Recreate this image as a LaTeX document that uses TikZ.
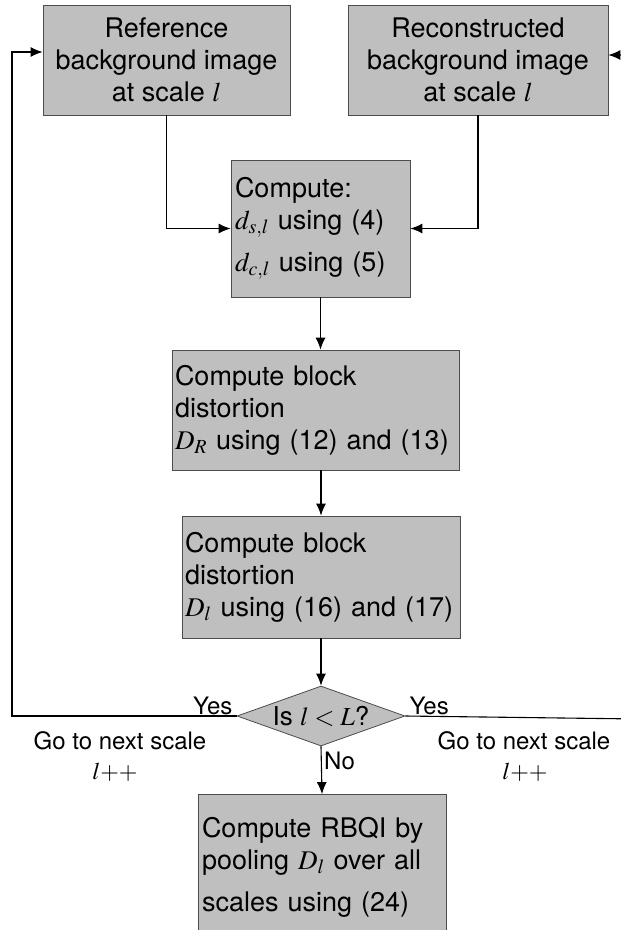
\documentclass[tikz,border=0pt]{standalone}
\usepackage{mathptmx}
\usepackage{fontspec}
\setmainfont{TeX Gyre Heros}
\usetikzlibrary{arrows.meta,positioning,shapes.geometric,calc}

\begin{document}
\begin{tikzpicture}[
  x=1pt, y=-1pt, font=\fontsize{27}{32}\selectfont,
  blk/.style={draw=black!70, fill=black!25, line width=0.8pt, inner sep=0pt},
  lbl/.style={font=\fontsize{24}{28}\selectfont, inner sep=1pt},
  ar/.style={-{Latex[length=12pt,width=10pt]}, line width=1.1pt},
  dec/.style={blk, diamond, aspect=2.8, minimum width=168pt, minimum height=60pt}
]
\useasboundingbox (0,0) rectangle (621,930);
%--- input images ------------------------------------------------------------
\node[blk, minimum width=247pt, minimum height=110pt, align=center] (ref) at (166.5,60)
  {Reference\\ background image\\ at scale $l$};
\node[blk, minimum width=260pt, minimum height=110pt, align=center] (rec) at (478,60)
  {Reconstructed\\ background image\\ at scale $l$};

%--- per-scale computations --------------------------------------------------
\node[blk, minimum width=179pt, minimum height=137pt, text width=171pt, align=left]
  (cmp) at (320.5,228.5)
  {Compute:\\ $d_{s,l}$ using (4)\\[10pt] $d_{c,l}$ using (5)};
\node[blk, minimum width=287pt, minimum height=120pt, text width=281pt, align=left]
  (dr) at (315.5,410)
  {Compute block\\ distortion\\ $D_R$ using (12) and (13)};
\node[blk, minimum width=278pt, minimum height=122pt, text width=272pt, align=left]
  (dl) at (321,577)
  {Compute block\\ distortion\\ $D_l$ using (16) and (17)};
\node[dec, font=\fontsize{26}{30}\selectfont] (chk) at (321,716) {Is $l<L$?};
\node[blk, minimum width=248pt, minimum height=145pt, text width=240pt, align=left]
  (pool) at (322,867)
  {Compute RBQI by\\ pooling $D_l$ over all\\[10pt] scales using (24)};

%--- connectors --------------------------------------------------------------
\draw[ar] (ref.south) |- (cmp.west);
\draw[ar] (rec.south) |- (cmp.east);
\draw[ar] (cmp.south) -- (cmp.south|-dr.north);
\draw[ar] (dl.north|-dr.south) -- (dl.north);
\draw[ar] (dl.south) -- (chk.north);
\draw[ar] (chk.south) -- (pool.north);

%--- loop back to next scale -------------------------------------------------
\coordinate (lc) at (12,716);
\coordinate (rc) at (640,719);
\draw[ar] (chk.west) -- (lc) |- ([yshift=8pt]ref.west);
\draw[ar] (chk.east) -- (rc) |- ([yshift=5pt]rec.east);
\node[lbl, above left=0pt and 3pt of chk.west] {Yes};
\node[lbl, above right=0pt and 3pt of chk.east] {Yes};
\node[lbl, below right=4pt and 2pt of chk.south] {No};
\node[lbl] (gl) at (120,741) {Go to next scale};
\node[lbl] (il) at (115,772) {$l{+}{+}$};
\node[lbl] (gr) at (524,741) {Go to next scale};
\node[lbl] (ir) at (525,772) {$l{+}{+}$};
\end{tikzpicture}
\end{document}
